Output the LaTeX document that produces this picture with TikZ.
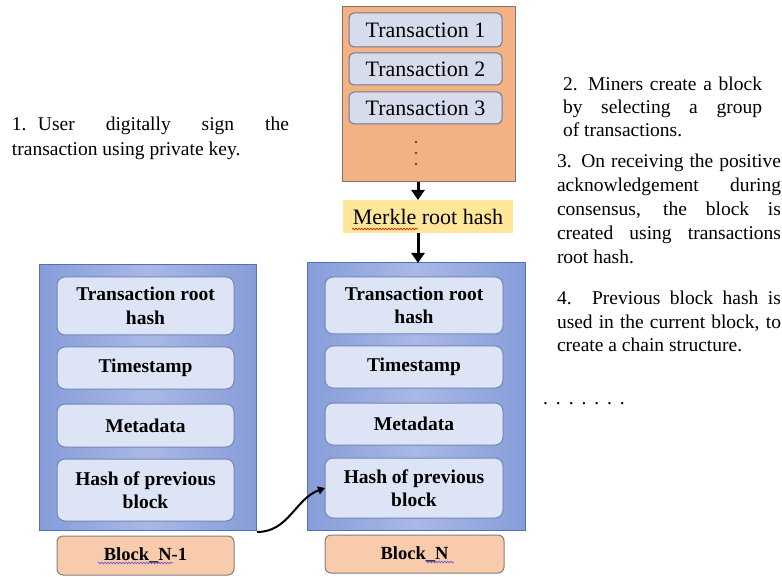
\documentclass[tikz,border=0pt]{standalone}
\usepackage{fontspec}
\setmainfont{Liberation Serif}
\usetikzlibrary{arrows.meta,decorations.pathmorphing}
\definecolor{orangefill}{HTML}{F4B183}
\definecolor{orangeedge}{HTML}{8C7060}
\definecolor{txfill}{HTML}{D6DCEC}
\definecolor{txedge}{HTML}{6E7890}
\definecolor{merklefill}{HTML}{FFE699}
\definecolor{blkedge}{HTML}{5470B8}
\definecolor{blkA}{HTML}{869DD8}
\definecolor{blkB}{HTML}{A9B8E6}
\definecolor{innerfill}{HTML}{DCE4F5}
\definecolor{inneredge}{HTML}{7486B8}
\definecolor{labelfill}{HTML}{F8CBAD}
\definecolor{labeledge}{HTML}{7F7F7F}
\definecolor{dotbrown}{HTML}{8B3A1A}
\definecolor{spellred}{HTML}{D02020}
\definecolor{spellblue}{HTML}{6A5ACD}
\begin{document}
\begin{tikzpicture}[x=1pt,y=-1pt,
  box/.style={inner sep=0pt, outer sep=0pt, align=center},
  txbox/.style={box, draw=txedge, fill=txfill, rounded corners=5pt, line width=1pt, minimum width=153pt, font=\fontsize{22}{24}\selectfont},
  field/.style={box, draw=inneredge, fill=innerfill, rounded corners=8pt, line width=1pt, font=\bfseries\fontsize{19.5}{23.5}\selectfont},
  blockouter/.style={box, draw=blkedge, line width=1pt, left color=blkA, right color=blkA, middle color=blkB},
  blocklabel/.style={box, draw=labeledge, fill=labelfill, rounded corners=6pt, line width=1pt, font=\bfseries\fontsize{18.5}{22}\selectfont},
  bigarrow/.style={-{Triangle[length=10pt,width=13pt]}, line width=3pt},
  note/.style={anchor=north west, inner sep=0pt, outer sep=0pt, align=justify},
  squiggle/.style={decorate, decoration={snake, amplitude=0.8pt, segment length=3pt}, line width=0.7pt}]
\useasboundingbox (0,0) rectangle (782,577);

% transaction pool
\node[box, draw=orangeedge, fill=orangefill, line width=1pt, minimum width=173pt, minimum height=175pt] (pool) at (428.5,94.5) {};
\node[txbox, minimum height=34pt] (tx1) at (425.5,30) {Transaction 1};
\node[txbox, minimum height=32pt] (tx2) at (425.5,69) {Transaction 2};
\node[txbox, minimum height=32pt] (tx3) at (425.5,108) {Transaction 3};
\fill[dotbrown] (416,142) circle (1.4pt) (416,153) circle (1.4pt) (416,164) circle (1.4pt);

% merkle
\node[box, fill=merklefill, minimum width=170pt, minimum height=33pt, font=\fontsize{22}{24}\selectfont] (merkle) at (428,216.5) {Merkle root hash};
\draw[squiggle, spellred] (352,229) -- (418,229);

% Block N-1
\node[blockouter, minimum width=217pt, minimum height=265pt] (bA) at (147.5,397.5) {};
\node[field, minimum width=177pt, minimum height=58pt] (trA) at (145.5,306) {Transaction root\\hash};
\node[field, minimum width=177pt, minimum height=42pt] (tsA) at (145.5,368) {Timestamp};
\node[field, minimum width=177pt, minimum height=43pt] (mdA) at (145.5,425.5) {Metadata};
\node[field, minimum width=177pt, minimum height=62pt] (hpA) at (145.5,490) {Hash of previous\\block};
\node[blocklabel, minimum width=177pt, minimum height=39pt] (lA) at (145.5,555.5) {Block\_N-1};
\draw[squiggle, spellblue] (98,563) -- (173,563);

% Block N
\node[blockouter, minimum width=218pt, minimum height=267pt] (bN) at (416,396.5) {};
\node[field, minimum width=178pt, minimum height=57pt] (trN) at (414,305.5) {Transaction root\\hash};
\node[field, minimum width=178pt, minimum height=42pt] (tsN) at (414,367) {Timestamp};
\node[field, minimum width=178pt, minimum height=42pt] (mdN) at (414,424) {Metadata};
\node[field, minimum width=178pt, minimum height=60pt] (hpN) at (414,488) {Hash of previous\\block};
\node[blocklabel, minimum width=179pt, minimum height=38pt] (lN) at (414.5,554) {Block\_N};
\draw[squiggle, spellblue] (426,562) -- (454,562);

% arrows
\coordinate (ax) at (418,0);
\draw[bigarrow] (pool.south -| ax) -- (merkle.north -| ax);
\draw[bigarrow] (merkle.south -| ax) -- (bN.north -| ax);
\coordinate (cstart) at (257,532);
\draw[line width=2pt, -{Triangle[length=7pt,width=8pt]}] (cstart) to[out=0, in=200] (hpN.west);

% notes
\node[note, text width=277pt, font=\fontsize{19.5}{25}\selectfont] (n1) at (12,117) {\hangindent=26pt\hangafter=1\noindent\makebox[26pt][l]{1.}User digitally sign the\linebreak transaction using private key.};
\node[note, text width=199pt, font=\fontsize{19.5}{23}\selectfont] (n2) at (563,77) {\hangindent=25pt\hangafter=1\noindent\makebox[25pt][l]{2.}Miners create a block\linebreak by selecting a group\linebreak of transactions.};
\node[note, text width=224pt, font=\fontsize{19.5}{24}\selectfont] (n3) at (557,154) {\noindent 3. On receiving the positive\linebreak acknowledgement during\linebreak consensus, the block is\linebreak created using transactions\linebreak root hash.};
\node[note, text width=224pt, font=\fontsize{19.5}{23.5}\selectfont] (n4) at (557,291) {\noindent 4. Previous block hash is\linebreak used in the current block, to\linebreak create a chain structure.};
\node[inner sep=0pt, font=\fontsize{19.5}{23.5}\selectfont] (dots) at (584,404) {\spaceskip=6.3pt . . . . . . .};
\end{tikzpicture}
\end{document}
